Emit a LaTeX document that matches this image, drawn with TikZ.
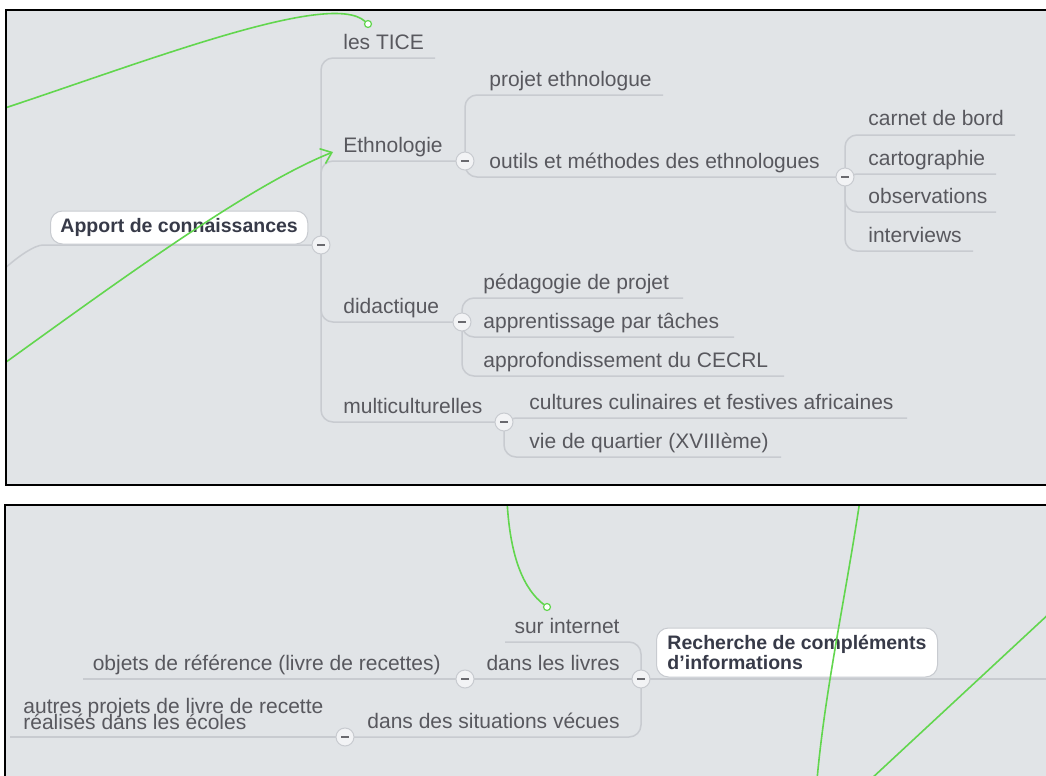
\documentclass[tikz,border=0pt]{standalone}
\usepackage{fontspec}
\setmainfont{Liberation Sans}
\usetikzlibrary{arrows.meta}
\definecolor{bgc}{RGB}{225,228,231}
\definecolor{brc}{RGB}{200,203,208}
\definecolor{txc}{RGB}{88,88,94}
\definecolor{bdc}{RGB}{55,58,72}
\definecolor{grc}{RGB}{98,214,78}
\definecolor{tgf}{RGB}{242,243,245}
\definecolor{mnc}{RGB}{105,105,110}
\begin{document}
\begin{tikzpicture}[x=0.5pt,y=-0.5pt,
  lbl/.style={text=txc, font=\fontsize{10.5}{12}\selectfont, inner sep=0pt, anchor=base west},
  lblr/.style={lbl, anchor=base east},
  brl/.style={draw=brc, line width=0.75pt, rounded corners=6pt},
  tog/.style={circle, minimum size=9pt, inner sep=0pt, fill=tgf, draw=brc, line width=0.5pt,
    path picture={\draw[mnc, line width=1pt] ([xshift=-1.8pt]path picture bounding box.center) -- ([xshift=1.8pt]path picture bounding box.center);}},
  mainbox/.style={draw=brc, fill=white, line width=0.5pt, rounded corners=6pt, text=bdc,
    font=\bfseries\fontsize{9.75}{9}\selectfont, inner xsep=5pt, inner ysep=0pt, anchor=west, align=left},
  grl/.style={draw=grc, line width=0.8pt},
  gend/.style={circle, draw=grc, fill=white, line width=0.6pt, minimum size=3.5pt, inner sep=0pt}
]
\useasboundingbox (0,0) rectangle (1046,776);
\fill[white] (0,0) rectangle (1046,776);

% ================= Panel 1 =================
\begin{scope}
\clip (6,10) rectangle (1046,485);
\fill[bgc] (6,10) rectangle (1046,485);

% toggles positions
\coordinate (pA) at (321,245);
\coordinate (pE) at (465,161);
\coordinate (pO) at (845,177);
\coordinate (pD) at (462,322);
\coordinate (pM) at (504,422);

% underline ends
\coordinate (uTICE) at (435,58);
\coordinate (uPE) at (663,95);
\coordinate (uCB) at (1015,135);
\coordinate (uCA) at (996,174);
\coordinate (uOB) at (996,212);
\coordinate (uIN) at (973,251);
\coordinate (uPP) at (683,298);
\coordinate (uAT) at (734,337);
\coordinate (uAC) at (784,376);
\coordinate (uCC) at (907,418);
\coordinate (uVQ) at (781,457);
\coordinate (aL) at (55,245);
\coordinate (aOut) at (2,271);

% branches
\draw[brl] (aOut) .. controls (18,256) and (35,245) .. (aL) -- (pA);
\draw[brl] (pA) |- (uTICE);
\draw[brl] (pA) |- (pE);
\draw[brl] (pA) |- (pD);
\draw[brl] (pA) |- (pM);
\draw[brl] (pE) |- (uPE);
\draw[brl] (pE) |- (pO);
\draw[brl] (pO) |- (uCB);
\draw[brl] (pO) |- (uCA);
\draw[brl] (pO) |- (uOB);
\draw[brl] (pO) |- (uIN);
\draw[brl] (pD) |- (uPP);
\draw[brl] (pD) |- (uAT);
\draw[brl] (pD) |- (uAC);
\draw[brl] (pM) |- (uCC);
\draw[brl] (pM) |- (uVQ);

% main box
\node[mainbox, minimum height=16.5pt] (apport) at (50,227.5) {Apport de connaissances};

% labels
\node[lbl] (tice) at (343,49) {les TICE};
\node[lbl] (ethno) at (343,152) {Ethnologie};
\node[lbl] (projeth) at (489,86) {projet ethnologue};
\node[lbl] (outils) at (489,168) {outils et méthodes des ethnologues};
\node[lbl] (carnet) at (868,126) {carnet de bord};
\node[lbl] (carto) at (868,165) {cartographie};
\node[lbl] (obs) at (868,203) {observations};
\node[lbl] (interv) at (868,242) {interviews};
\node[lbl] (didac) at (343,313) {didactique};
\node[lbl] (pedag) at (483,289) {pédagogie de projet};
\node[lbl] (appren) at (483,328) {apprentissage par tâches};
\node[lbl] (approf) at (483,367) {approfondissement du CECRL};
\node[lbl] (multi) at (343,413) {multiculturelles};
\node[lbl] (cult) at (529,409) {cultures culinaires et festives africaines};
\node[lbl] (vie) at (529,448) {vie de quartier (XVIIIème)};

% toggles
\node[tog] (tA) at (pA) {};
\node[tog] (tE) at (pE) {};
\node[tog] (tO) at (pO) {};
\node[tog] (tD) at (pD) {};
\node[tog] (tM) at (pM) {};

% green connectors
\coordinate (g1s) at (2,109);
\node[gend] (g1e) at (368,24) {};
\draw[grl] (g1s) .. controls (150,60) and (330,-10) .. (g1e);
\coordinate (g2s) at (2,365);
\coordinate (g2e) at (333,152);
\draw[grl, -{Straight Barb[length=5pt, width=8pt, line width=0.8pt]}] (g2s) .. controls (120,280) and (250,185) .. (g2e);
\end{scope}
\draw[line width=1pt] (1047,10) -- (6,10) -- (6,485) -- (1047,485);

% ================= Panel 2 =================
\begin{scope}
\clip (5,505) rectangle (1046,776);
\fill[bgc] (5,505) rectangle (1046,776);

\coordinate (pR) at (641,679);
\coordinate (pL) at (465,679);
\coordinate (pS) at (345,737);
\coordinate (uSI) at (505,642);
\coordinate (uOR) at (83,679);
\coordinate (uAP) at (10,737);
\coordinate (uRR) at (1050,679);

\draw[brl] (pR) |- (uSI);
\draw[brl] (pR) -- (pL);
\draw[brl] (pR) |- (pS);
\draw[brl] (pR) -- (uRR);
\draw[brl] (pL) -- (uOR);
\draw[brl] (pS) -- (uAP);

\node[mainbox, minimum height=24.5pt, minimum width=140.5pt] (rech) at (656,652.5) {Recherche de compléments\\d'informations};

\node[lblr] (surint) at (620,633) {sur internet};
\node[lblr] (livres) at (620,670) {dans les livres};
\node[lblr] (situ) at (620,728) {dans des situations vécues};
\node[lblr] (objets) at (441,670) {objets de référence (livre de recettes)};
\node[lbl] (autres1) at (23,713) {autres projets de livre de recette};
\node[lbl] (autres2) at (23,729) {réalisés dans les écoles};

\node[tog] (tR) at (pR) {};
\node[tog] (tL) at (pL) {};
\node[tog] (tS) at (pS) {};

\coordinate (g3s) at (507,500);
\node[gend] (g3e) at (547,607) {};
\draw[grl] (g3s) .. controls (510,560) and (525,590) .. (g3e);
\coordinate (g4s) at (860,500);
\coordinate (g4e) at (817,780);
\draw[grl] (g4s) .. controls (845,600) and (825,690) .. (g4e);
\coordinate (g5s) at (1052,611);
\coordinate (g5e) at (870,780);
\draw[grl] (g5s) -- (g5e);
\end{scope}
\draw[line width=1pt] (1047,505) -- (5,505) -- (5,777);
\end{tikzpicture}
\end{document}
